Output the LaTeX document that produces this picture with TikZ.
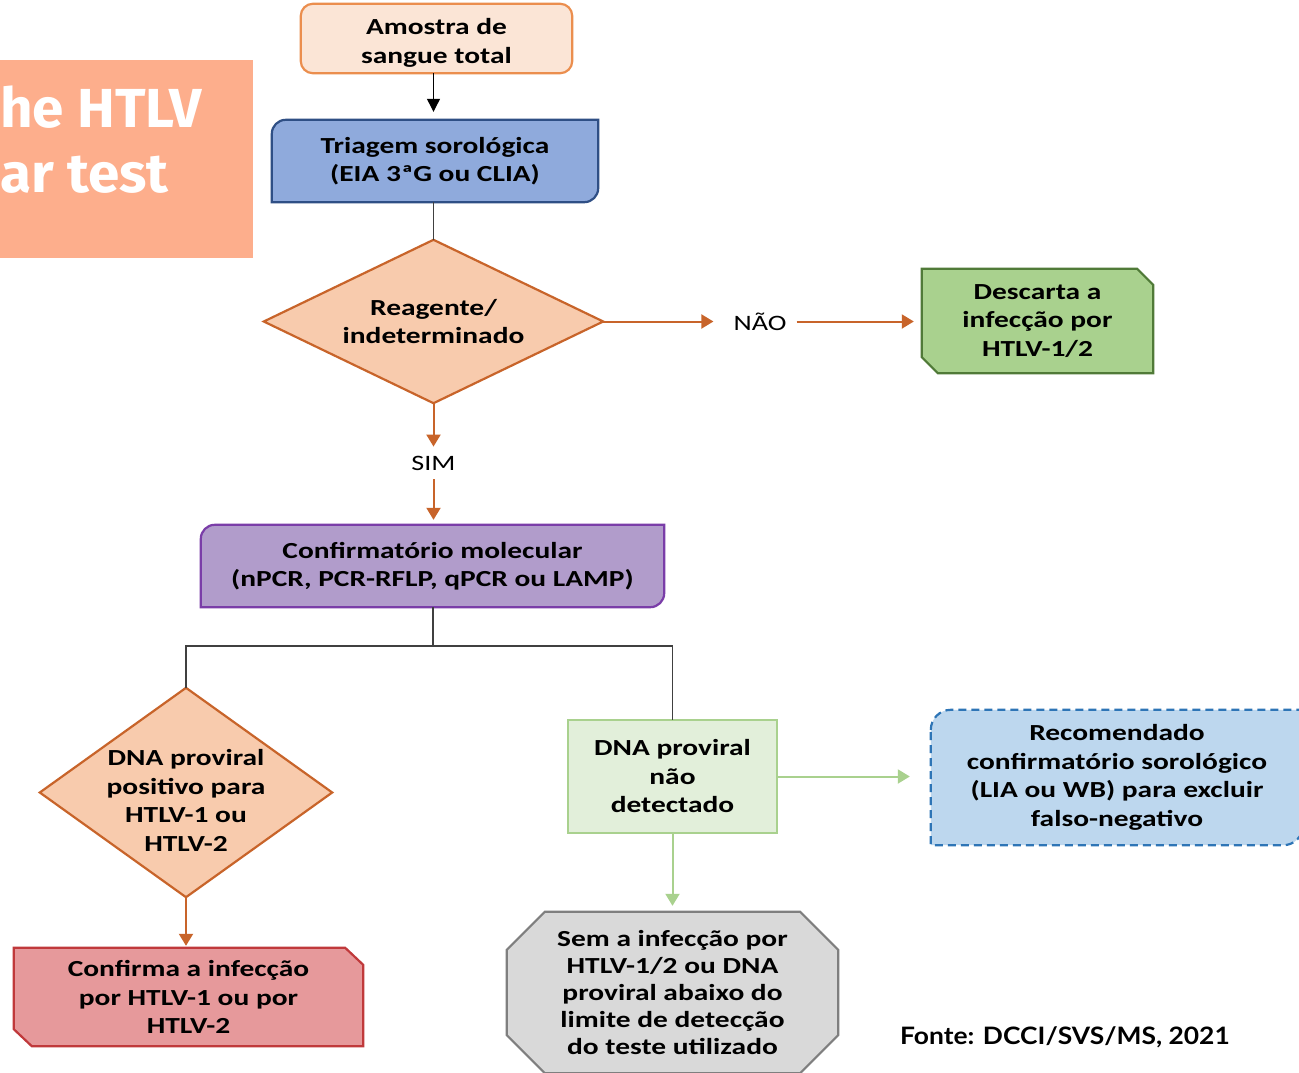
\documentclass[tikz,border=0pt]{standalone}
\usepackage{fontspec}
\setmainfont{Carlito}[FakeStretch=1.28]
\newfontfamily\fontefont{Lato}[FakeStretch=1.1]
\newfontfamily\titlefont{Fira Sans}[FakeStretch=1.03]
\usetikzlibrary{arrows.meta,calc}
\definecolor{salmon}{HTML}{FDAE8C}
\definecolor{peachfill}{HTML}{FBE5D6}
\definecolor{peachline}{HTML}{EB8E4E}
\definecolor{dfill}{HTML}{F8CBAD}
\definecolor{dline}{HTML}{C8642A}
\definecolor{bluefill}{HTML}{8FAADC}
\definecolor{blueline}{HTML}{2F4F85}
\definecolor{greenfill}{HTML}{A9D18E}
\definecolor{greenline}{HTML}{507A38}
\definecolor{purplefill}{HTML}{B19CCB}
\definecolor{purpleline}{HTML}{7A3DA8}
\definecolor{lgfill}{HTML}{E2EFDA}
\definecolor{lgline}{HTML}{A9D18E}
\definecolor{recfill}{HTML}{BDD7EE}
\definecolor{recline}{HTML}{2E75B6}
\definecolor{redfill}{HTML}{E6999B}
\definecolor{redline}{HTML}{C0393B}
\definecolor{grayfill}{HTML}{D9D9D9}
\definecolor{grayline}{HTML}{7F7F7F}
\definecolor{treeline}{HTML}{404040}
\pgfdeclarelayer{bg}
\pgfsetlayers{bg,main}
\begin{document}
\begin{tikzpicture}[x=1pt,y=1pt,
  boxtext/.style={font=\fontsize{23}{28.5}\selectfont\bfseries, align=center, inner sep=0pt, text=black},
  lbl/.style={font=\fontsize{22}{26}\selectfont, inner sep=0pt, text=black},
  oarr/.style={draw=dline, line width=2pt, -{Triangle[length=12pt,width=14pt]}},
  garr/.style={draw=lgline, line width=2pt, -{Triangle[length=12pt,width=14pt]}},
  karr/.style={draw=black, line width=1.2pt, -{Triangle[length=13pt,width=13pt]}},
  tline/.style={draw=treeline, line width=1.2pt},
  shp/.style={line width=2.2pt, line join=miter}
]
\useasboundingbox (0,0) rectangle (1299,-1073);

% title block
\node[anchor=base west, inner sep=0pt, text=white, font=\titlefont\bfseries\fontsize{55}{64}\selectfont] (t1) at (0,-128) {he HTLV};
\node[anchor=base west, inner sep=0pt, text=white, font=\titlefont\bfseries\fontsize{55}{64}\selectfont] (t2) at (0,-192) {ar test};

% nodes
\node[boxtext, minimum width=271, minimum height=69] (amostra) at (436.5,-38.5) {\rule{0pt}{24.5pt}Amostra de\\sangue total};
\node[boxtext, minimum width=326, minimum height=82] (triagem) at (435,-161) {Triagem sorológica\\(EIA 3ªG ou CLIA)};
\node[boxtext, minimum width=339, minimum height=163] (d1) at (433.5,-321.5) {Reagente/\\indeterminado};
\node[lbl] (nao) at (760,-321.5) {NÃO};
\node[boxtext, minimum width=231, minimum height=104] (descarta) at (1037.5,-321) {Descarta a\\infecção por\\HTLV-1/2};
\node[lbl] (sim) at (433.5,-463) {SIM};
\node[boxtext, minimum width=463, minimum height=82] (conf) at (432.5,-566) {Confirmatório molecular\\(nPCR, PCR-RFLP, qPCR ou LAMP)};
\coordinate (j) at (433,-646);
\node[boxtext, minimum width=292, minimum height=209] (d2) at (186,-792.5) {\rule{0pt}{32pt}DNA proviral\\positivo para\\HTLV-1 ou\\HTLV-2};
\node[boxtext, minimum width=349, minimum height=98] (confirma) at (188.5,-997) {Confirma a infecção\\por HTLV-1 ou por\\HTLV-2};
\node[boxtext, minimum width=209, minimum height=113] (dna) at (672.5,-776.5) {DNA proviral\\não\\detectado};
\node[boxtext, minimum width=372, minimum height=135] (reco) at (1117,-777.5) {Recomendado\\confirmatório sorológico\\(LIA ou WB) para excluir\\falso-negativo};
\node[boxtext, minimum width=331, minimum height=161, font=\fontsize{23}{27.2}\selectfont\bfseries] (oct) at (672.5,-992.5) {Sem a infecção por\\HTLV-1/2 ou DNA\\proviral abaixo do\\limite de detecção\\do teste utilizado};
\node[anchor=base west, inner sep=0pt, font=\fontefont\bfseries\fontsize{24}{28}\selectfont] (fonte) at (900,-1044) {Fonte: DCCI/SVS/MS, 2021};

% shapes behind the text
\begin{pgfonlayer}{bg}
\fill[white] (0,0) rectangle (1299,-1073);
\fill[salmon] (0,-60) rectangle (253,-258);
% Amostra
\draw[shp, draw=peachline, fill=peachfill, rounded corners=12pt] (amostra.north west) rectangle (amostra.south east);
% Triagem
\draw[shp, draw=blueline, fill=bluefill] ($(triagem.north west)+(0,-14)$) arc[start angle=180,end angle=90,radius=14pt] -- (triagem.north east) -- ($(triagem.south east)+(0,14)$) arc[start angle=0,end angle=-90,radius=14pt] -- (triagem.south west) -- cycle;
% diamond 1
\draw[shp, draw=dline, fill=dfill] (d1.north) -- (d1.east) -- (d1.south) -- (d1.west) -- cycle;
% Descarta
\draw[shp, draw=greenline, fill=greenfill] (descarta.north west) -- ($(descarta.north east)+(-16,0)$) -- ($(descarta.north east)+(0,-16)$) -- (descarta.south east) -- ($(descarta.south west)+(16,0)$) -- ($(descarta.south west)+(0,16)$) -- cycle;
% Confirmatorio
\draw[shp, draw=purpleline, fill=purplefill] ($(conf.north west)+(0,-14)$) arc[start angle=180,end angle=90,radius=14pt] -- (conf.north east) -- ($(conf.south east)+(0,14)$) arc[start angle=0,end angle=-90,radius=14pt] -- (conf.south west) -- cycle;
% diamond 2
\draw[shp, draw=dline, fill=dfill] (d2.north) -- (d2.east) -- (d2.south) -- (d2.west) -- cycle;
% Confirma
\draw[shp, draw=redline, fill=redfill] (confirma.north west) -- ($(confirma.north east)+(-18,0)$) -- ($(confirma.north east)+(0,-17)$) -- (confirma.south east) -- ($(confirma.south west)+(18,0)$) -- ($(confirma.south west)+(0,17)$) -- cycle;
% DNA nao detectado
\draw[shp, draw=lgline, fill=lgfill] (dna.north west) rectangle (dna.south east);
% Recomendado
\draw[shp, draw=recline, fill=recfill, dash pattern=on 8pt off 5pt] ($(reco.north west)+(0,-20)$) arc[start angle=180,end angle=90,radius=20pt] -- (reco.north east) -- ($(reco.south east)+(0,20)$) arc[start angle=0,end angle=-90,radius=20pt] -- (reco.south west) -- cycle;
% octagon
\draw[shp, draw=grayline, fill=grayfill] ($(oct.north west)+(38,0)$) -- ($(oct.north east)+(-38,0)$) -- ($(oct.north east)+(0,-38)$) -- ($(oct.south east)+(0,38)$) -- ($(oct.south east)+(-38,0)$) -- ($(oct.south west)+(38,0)$) -- ($(oct.south west)+(0,38)$) -- ($(oct.north west)+(0,-38)$) -- cycle;
\end{pgfonlayer}

% connectors
\draw[karr, shorten >=8pt] (amostra.south -| d1.north) -- (d1.north |- triagem.north);
\draw[tline] (d1.north |- triagem.south) -- (d1.north);
\draw[oarr, shorten >=20pt] (d1.east) -- (nao.west);
\draw[oarr, shorten <=10pt, shorten >=8pt] (nao.east) -- (nao.east -| descarta.west);
\draw[oarr, shorten >=9pt] (d1.south) -- (sim.north);
\draw[oarr, shorten <=9pt, shorten >=5pt] (sim.south) -- (sim.south |- conf.north);
\draw[tline] (j |- conf.south) -- (j);
\draw[tline] (j) -| (d2.north);
\draw[tline] (j) -| (dna.north);
\draw[oarr, shorten >=2pt] (d2.south) -- (d2.south |- confirma.north);
\draw[garr, shorten >=21pt] (dna.east) -- (dna.east -| reco.west);
\draw[garr, shorten >=6pt] (dna.south) -- (oct.north);
\end{tikzpicture}
\end{document}
